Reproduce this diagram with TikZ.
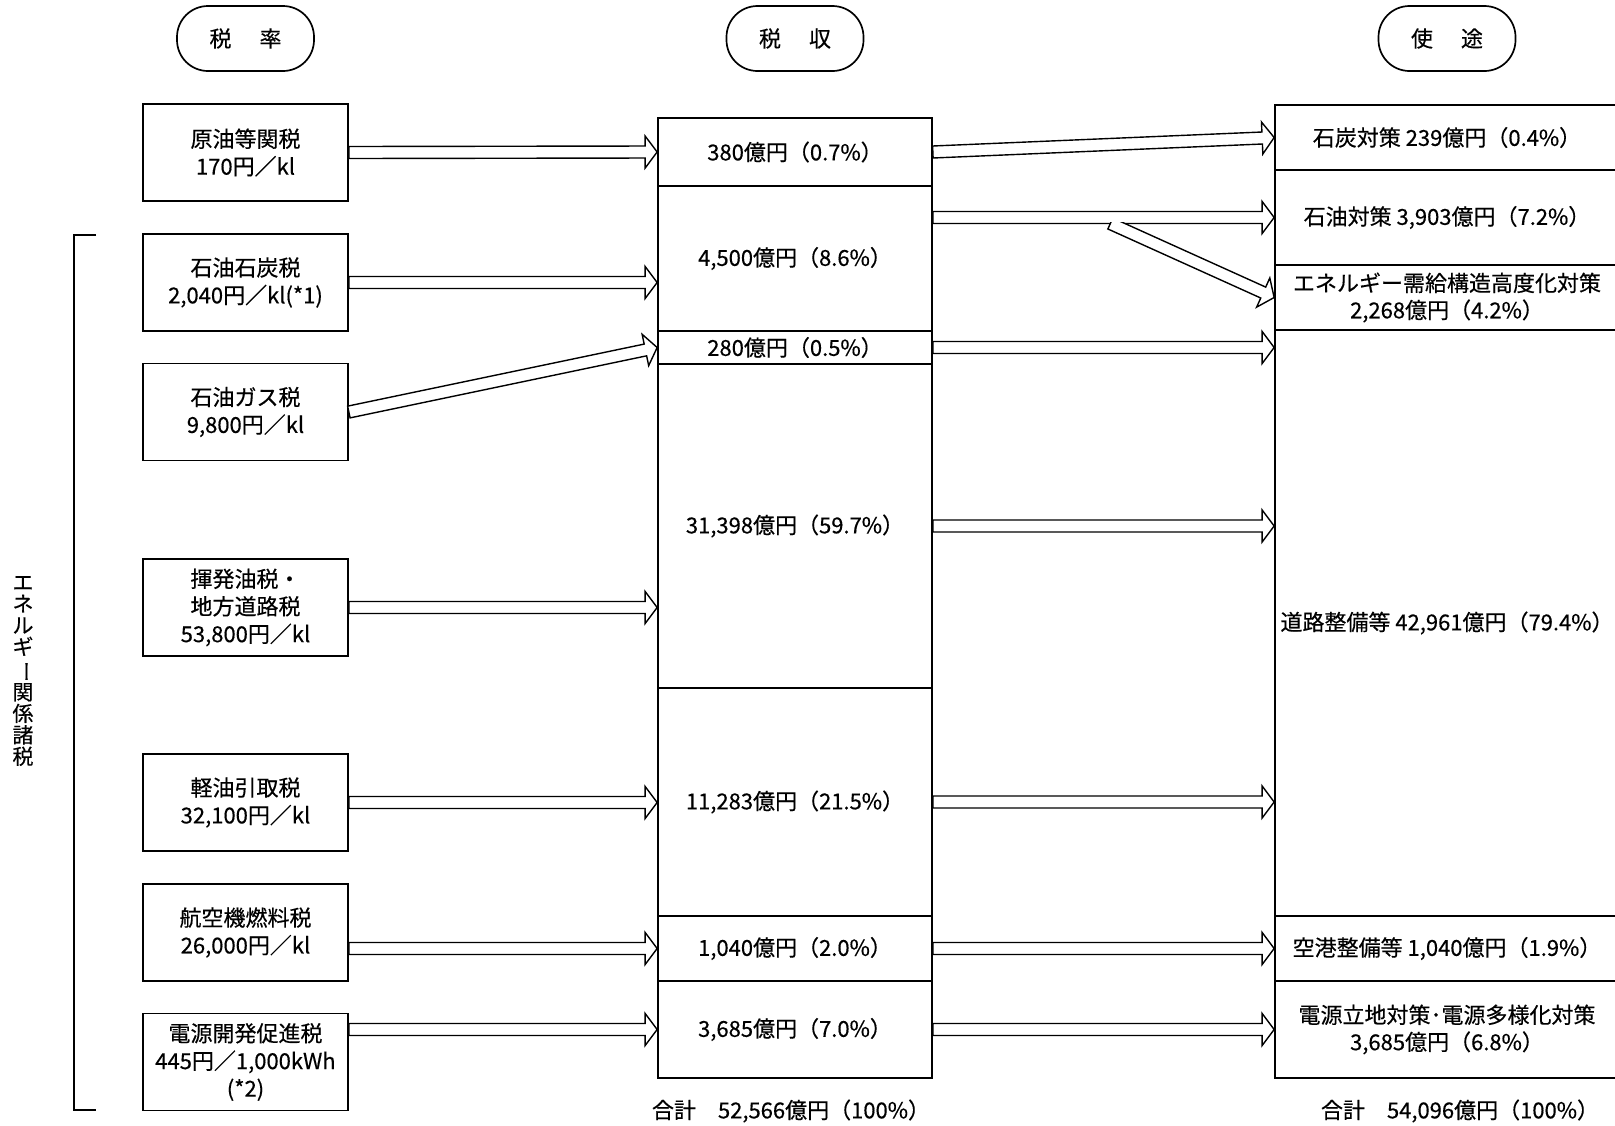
\documentclass[tikz,border=0pt]{standalone}
\usepackage{fontspec}
\setmainfont{Noto Sans CJK JP}[FakeBold=0.4]
\usetikzlibrary{calc}
\tikzset{
  every node/.style={font=\fontsize{22}{27.5}\selectfont},
  box/.style={draw, line width=1.7pt, minimum width=205pt, minimum height=97pt, align=center, inner sep=0pt},
  seg/.style={draw, line width=1.7pt, minimum width=274pt, align=center, inner sep=0pt},
  useg/.style={draw, line width=1.7pt, minimum width=344pt, align=center, inner sep=0pt},
  hdr/.style={draw, line width=1.7pt, rounded corners=31pt, minimum width=137pt, minimum height=65pt, inner sep=0pt},
  arr/.style={draw, line width=1.4pt, fill=white, line join=miter},
}
\newcommand\hollowarrow[2]{%
  \coordinate (ha) at (#1);
  \coordinate (hb) at (#2);
  \coordinate (hh) at ($(hb)!12pt!(ha)$);
  \draw[arr] ($(ha)!6pt!90:(hb)$) -- ($(hh)!6pt!90:(hb)$) -- ($(hh)!16pt!90:(hb)$) -- (hb)
    -- ($(hh)!16pt!-90:(hb)$) -- ($(hh)!6pt!-90:(hb)$) -- ($(ha)!6pt!-90:(hb)$) -- cycle;}
\begin{document}
\begin{tikzpicture}[x=1pt,y=-1pt]
\fill[white] (0,0) rectangle (1615,1125);
\useasboundingbox (0,0) rectangle (1615,1125);

% headers
\node[hdr] (h1) at (245.5,38.5) {税\hspace{6pt}　率};
\node[hdr] (h2) at (795,38.5) {税\hspace{6pt}　収};
\node[hdr] (h3) at (1447,38.5) {使\hspace{6pt}　途};

% left column: tax rates
\node[box] (t1) at (245.5,152.5) {原油等関税\\170円／kl};
\node[box] (t2) at (245.5,282.5) {石油石炭税\\2,040円／kl(*1)};
\node[box] (t3) at (245.5,412) {石油ガス税\\9,800円／kl};
\node[box] (t4) at (245.5,607.5) {揮発油税・\\地方道路税\\53,800円／kl};
\node[box] (t5) at (245.5,802.5) {軽油引取税\\32,100円／kl};
\node[box] (t6) at (245.5,932.5) {航空機燃料税\\26,000円／kl};
\node[box] (t7) at (245.5,1062) {電源開発促進税\\445円／1,000kWh\\(*2)};

% bracket and vertical label
\draw[line width=1.7pt] (96,235) -- (74,235) -- (74,1110) -- (96,1110);
\node[font=\fontsize{21}{21.5}\selectfont, align=center, inner sep=0pt] (vl) at (23,671)
  {エ\\ネ\\ル\\ギ\\\rotatebox[origin=c]{-90}{ー}\\関\\係\\諸\\税};

% middle column: revenue
\node[seg, minimum height=68pt] (m1) at (795,152) {380億円（0.7\%）};
\node[seg, minimum height=145pt] (m2) at (795,258.5) {4,500億円（8.6\%）};
\node[seg, minimum height=33pt] (m3) at (795,347.5) {280億円（0.5\%）};
\node[seg, minimum height=324pt] (m4) at (795,526) {31,398億円（59.7\%）};
\node[seg, minimum height=228pt] (m5) at (795,802) {11,283億円（21.5\%）};
\node[seg, minimum height=65pt] (m6) at (795,948.5) {1,040億円（2.0\%）};
\node[seg, minimum height=97pt] (m7) at (795,1029.5) {3,685億円（7.0\%）};
\node (s1) at (791,1111) {合計　52,566億円（100\%）};

% right column: uses
\node[useg, minimum height=65pt] (r1) at (1447,137.5) {石炭対策 239億円（0.4\%）};
\node[useg, minimum height=95pt] (r2) at (1447,217.5) {石油対策 3,903億円（7.2\%）};
\node[useg, minimum height=65pt, font=\fontsize{22}{27}\selectfont] (r3) at (1447,297.5) {エネルギー需給構造高度化対策\\2,268億円（4.2\%）};
\node[useg, minimum height=586pt] (r4) at (1447,623) {道路整備等 42,961億円（79.4\%）};
\node[useg, minimum height=65pt] (r5) at (1447,948.5) {空港整備等 1,040億円（1.9\%）};
\node[useg, minimum height=97pt, font=\fontsize{22}{27}\selectfont] (r6) at (1447,1029.5) {電源立地対策･電源多様化対策\\3,685億円（6.8\%）};
\node (s2) at (1460,1111) {合計　54,096億円（100\%）};

% arrows: rates -> revenue
\hollowarrow{t1.east}{m1.west}
\hollowarrow{t2.east}{t2.east -| m2.west}
\hollowarrow{t3.east}{m3.west}
\hollowarrow{t4.east}{t4.east -| m4.west}
\hollowarrow{t5.east}{t5.east -| m5.west}
\hollowarrow{m6.west -| t6.east}{m6.west}
\hollowarrow{m7.west -| t7.east}{m7.west}

% arrows: revenue -> uses
\hollowarrow{m1.east}{r1.west}
\hollowarrow{r2.west -| m2.east}{r2.west}
\coordinate (bs) at ($($(r2.west -| m2.east)!0.52!(r2.west)$)+(0,6)$);
\coordinate (be) at (r3.west);
\coordinate (bh) at ($(be)!12pt!(bs)$);
\begin{scope}
  \clip ($(bs)+(-40,-1)$) rectangle ($(be)+(5,60)$);
  \draw[arr] ($(bs)!6pt!90:(be)$) -- ($(bh)!6pt!90:(be)$) -- ($(bh)!16pt!90:(be)$) -- (be)
    -- ($(bh)!16pt!-90:(be)$) -- ($(bh)!6pt!-90:(be)$) -- ($(bs)!6pt!-90:(be)$) -- cycle;
\end{scope}
\hollowarrow{m3.east}{m3.east -| r4.west}
\hollowarrow{m4.east}{m4.east -| r4.west}
\hollowarrow{m5.east}{m5.east -| r4.west}
\hollowarrow{m6.east}{r5.west}
\hollowarrow{m7.east}{r6.west}
\end{tikzpicture}
\end{document}
